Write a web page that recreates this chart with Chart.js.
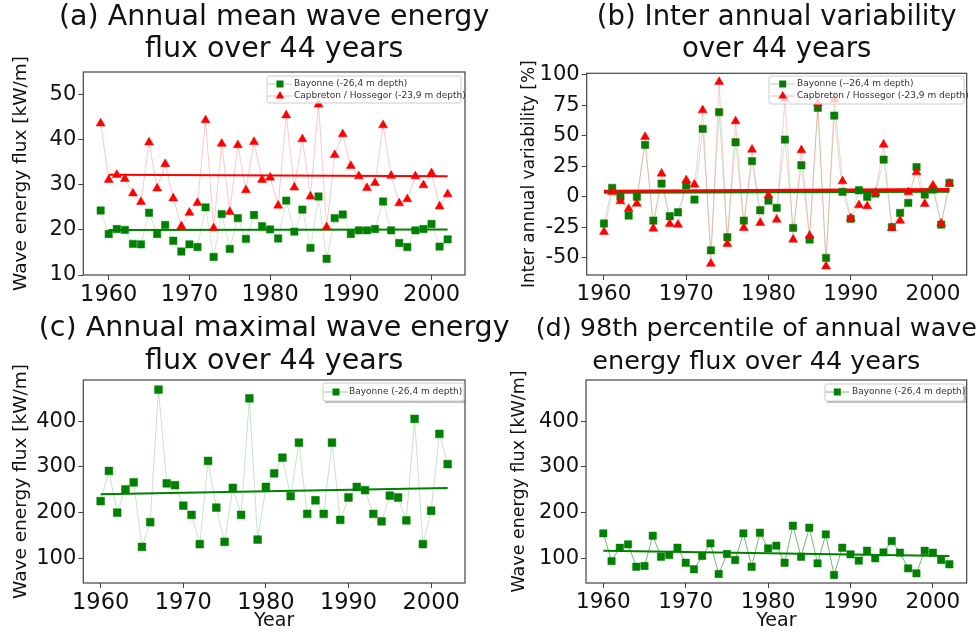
<!DOCTYPE html>
<html>
<head>
<meta charset="utf-8">
<script src="https://cdn.jsdelivr.net/npm/chart.js@4.4.1/dist/chart.umd.min.js"></script>
<style>
  html, body { margin: 0; padding: 0; background: #fff; }
  #wrap { position: relative; width: 976px; height: 632px; overflow: hidden; }
  #wrap canvas { position: absolute; }
</style>
</head>
<body>
<div id="wrap">
  <canvas id="chartB" width="488" height="316" style="left:488px;top:0"></canvas>
  <canvas id="chartD" width="488" height="316" style="left:488px;top:316px"></canvas>
  <canvas id="chartA" width="520" height="316" style="left:0;top:0"></canvas>
  <canvas id="chartC" width="520" height="316" style="left:0;top:316px"></canvas>
</div>
<script>
// years
const years44 = [1959, 1960, 1961, 1962, 1963, 1964, 1965, 1966, 1967, 1968, 1969,
  1970, 1971, 1972, 1973, 1974, 1975, 1976, 1977, 1978, 1979,
  1980, 1981, 1982, 1983, 1984, 1985, 1986, 1987, 1988, 1989,
  1990, 1991, 1992, 1993, 1994, 1995, 1996, 1997, 1998, 1999,
  2000, 2001, 2002];
const years43 = [1960, 1961, 1962, 1963, 1964, 1965, 1966, 1967, 1968, 1969,
  1970, 1971, 1972, 1973, 1974, 1975, 1976, 1977, 1978, 1979,
  1980, 1981, 1982, 1983, 1984, 1985, 1986, 1987, 1988, 1989,
  1990, 1991, 1992, 1993, 1994, 1995, 1996, 1997, 1998, 1999,
  2000, 2001, 2002];
const trendYears = [1960, 2002];
const xTicks = [1960, 1970, 1980, 1990, 2000];

// (a) annual mean flux [kW/m]
const meanBayonne = [24.3, 19.1, 20.2, 20.0, 16.9, 16.8, 23.8, 19.1, 21.1, 17.6, 15.2,
  16.8, 16.2, 25.0, 14.0, 23.5, 15.8, 22.6, 18.0, 23.3, 20.8,
  20.1, 18.1, 26.5, 19.6, 24.5, 16.0, 27.4, 13.6, 22.6, 23.4,
  19.1, 19.9, 19.9, 20.2, 26.3, 19.9, 17.1, 16.2, 19.9, 20.2,
  21.3, 16.3, 17.9];
const meanCapbreton = [43.6, 31.1, 32.2, 31.3, 28.1, 26.2, 39.4, 29.2, 34.6, 27.0, 20.8,
  23.8, 26.0, 44.3, 20.4, 39.1, 24.0, 38.8, 28.8, 39.5, 31.1,
  31.6, 25.4, 45.4, 29.4, 40.1, 27.4, 47.8, 20.6, 36.6, 41.2,
  34.2, 31.9, 29.3, 30.4, 43.2, 32.0, 25.9, 26.8, 31.9, 29.9,
  32.6, 25.2, 27.9];
const meanTrendBayonne = [20.0, 20.1];
const meanTrendCapbreton = [32.2, 31.9];
const yTicksA = [10, 20, 30, 40, 50];

// (b) inter annual variability [%]
const varBayonne = [-21.9, 7.3, 0, -15.4, 0, 42.4, -19.5, 10.8, -15.9, -12.7,
  9.4, -2.3, 55.5, -43.8, 69.2, -33.1, 44.6, -19.5, 29.1, -11,
  -3.1, -9.1, 46.8, -25.5, 25.8, -35, 72.7, -50, 66.4, 4,
  -18.1, 5.3, 0, 2.6, 30.4, -24.9, -13.2, -5, 24.2, 1.8,
  5.9, -22.8, 11.4];
const varCapbreton = [-28.7, 4, -3.6, -9.9, -5.6, 49, -26, 19, -22.2, -22.8,
  13.5, 10, 70.8, -54.7, 94, -38.6, 61.8, -25.5, 38.6, -21.4,
  1.2, -18.7, 80.1, -35, 38.1, -31.8, 76.3, -56.9, 79.5, 12.7,
  -17.5, -6.9, -7.7, 3.2, 42.7, -25.5, -19.5, 3.7, 20.1, -5.8,
  9.2, -21.9, 10.8];
const varTrendBayonne = [3.6, 4.5];
const varTrendCapbreton = [4.5, 5.9];
const yTicksB = [-50, -25, 0, 25, 50, 75, 100];

// (c) annual maximal flux, (d) 98th percentile [kW/m]
const maxBayonne = [225, 291, 200, 251, 266, 125, 179, 469, 264, 260,
  215, 195, 131, 313, 211, 136, 254, 195, 450, 141,
  256, 286, 320, 236, 353, 197, 227, 197, 353, 184,
  233, 256, 249, 197, 181, 237, 233, 183, 405, 131,
  204, 372, 306];
const maxTrend = [240, 254];
const p98Bayonne = [154.6, 94, 123, 130.6, 81.6, 83.2, 149.4, 103.5, 107.2, 123.2,
  90.4, 76, 105, 132.8, 65.7, 109.4, 96.3, 154.6, 81.6, 156,
  121.8, 127.6, 90.4, 171.3, 103.5, 166.9, 89, 152.4, 63.5, 123.2,
  108.7, 94.8, 116.6, 100, 113.1, 137.8, 112.4, 78.1, 67.2, 116.6,
  112.4, 96.3, 86.9];
const p98Trend = [116.6, 105];
const yTicksCD = [100, 200, 300, 400];

Chart.defaults.font.family = '"DejaVu Sans", Verdana, sans-serif';
Chart.defaults.color = '#111';

const xy = (xs, ys) => xs.map((x, i) => ({ x: x, y: ys[i] }));

// frame, two-line title and the in-plot legend
const panelDecor = {
  id: 'panelDecor',
  afterDraw(chart, args, o) {
    const { ctx, chartArea: a } = chart;
    ctx.save();
    ctx.strokeStyle = '#444';
    ctx.lineWidth = 1.2;
    ctx.strokeRect(a.left, a.top, a.right - a.left, a.bottom - a.top);

    ctx.fillStyle = '#111';
    ctx.font = o.titleSize + 'px "DejaVu Sans"';
    ctx.textAlign = 'center';
    ctx.textBaseline = 'middle';
    const cx = (a.left + a.right) / 2 + (o.titleDx || 0);
    o.title.forEach((t, i) => ctx.fillText(t, cx, o.titleY[i]));

    const L = o.legend;
    if (L.shadow) {
      ctx.fillStyle = 'rgba(120,120,120,0.5)';
      ctx.fillRect(L.x + 2, L.y + 2, L.w, L.h);
    }
    ctx.fillStyle = L.shadow ? '#fff' : 'rgba(255,255,255,0.8)';
    ctx.strokeStyle = '#ccc';
    ctx.lineWidth = 1;
    ctx.beginPath();
    ctx.roundRect(L.x, L.y, L.w, L.h, 2);
    ctx.fill();
    ctx.stroke();
    L.items.forEach((it, i) => {
      const y = L.rowY[i];
      ctx.strokeStyle = it.line;
      ctx.lineWidth = 1;
      ctx.beginPath();
      ctx.moveTo(L.mx - 12, y);
      ctx.lineTo(L.mx + 12, y);
      ctx.stroke();
      ctx.fillStyle = it.color;
      ctx.beginPath();
      if (it.shape === 'rect') {
        ctx.rect(L.mx - 3.5, y - 3.5, 7, 7);
      } else {
        ctx.moveTo(L.mx, y - 5);
        ctx.lineTo(L.mx + 4.3, y + 2.5);
        ctx.lineTo(L.mx - 4.3, y + 2.5);
        ctx.closePath();
      }
      ctx.fill();
      ctx.fillStyle = '#333';
      ctx.font = '9px "DejaVu Sans"';
      ctx.textAlign = 'left';
      ctx.textBaseline = 'middle';
      ctx.fillText(it.label, L.tx, y);
    });
    ctx.restore();
  }
};

function scales(o) {
  return {
    x: {
      type: 'linear', min: o.xMin, max: o.xMax,
      afterBuildTicks: s => { s.ticks = xTicks.map(v => ({ value: v })); },
      afterFit: s => { s.height = o.xH; },
      grid: { drawOnChartArea: false, color: '#444', tickLength: 5 },
      border: { display: false },
      ticks: { font: { size: o.tickSize }, color: '#111', padding: 2, maxRotation: 0, callback: v => String(v) },
      title: { display: !!o.xTitle, text: o.xTitle || '', font: { size: 19 }, color: '#111', padding: 0 }
    },
    y: {
      min: o.yMin, max: o.yMax,
      afterBuildTicks: s => { s.ticks = o.yTicks.map(v => ({ value: v })); },
      afterFit: s => { s.width = o.yW; },
      grid: { drawOnChartArea: false, color: '#444', tickLength: 5 },
      border: { display: false },
      ticks: { font: { size: 21 }, color: '#111', padding: 2, callback: v => String(v) },
      title: { display: true, text: o.yTitle, font: { size: o.yTitleSize }, color: '#111', padding: 0 }
    }
  };
}

function series(xs, ys, c) {
  return {
    data: xy(xs, ys), showLine: true, borderColor: c.line, borderWidth: 1,
    pointStyle: c.shape, pointRadius: c.r, pointBackgroundColor: c.color,
    pointBorderColor: c.color, pointBorderWidth: 0.5, order: c.order
  };
}

function trend(ys, color, w, order) {
  return {
    data: xy(trendYears, ys), showLine: true, borderColor: color, borderWidth: w,
    pointRadius: 0, order: order
  };
}

function makeChart(id, datasets, sc, pad, decor) {
  return new Chart(document.getElementById(id), {
    type: 'line',
    data: { datasets: datasets },
    options: {
      responsive: false, animation: false,
      layout: { padding: pad },
      plugins: { legend: { display: false }, tooltip: { enabled: false }, title: { display: false }, panelDecor: decor },
      scales: sc
    },
    plugins: [panelDecor]
  });
}

const GREEN = 'green', RED = '#ff0000';

// (a)
makeChart('chartA', [
  trend(meanTrendBayonne, GREEN, 2, 3),
  trend(meanTrendCapbreton, RED, 2, 2),
  series(years44, meanBayonne, { line: 'rgba(0,128,0,0.18)', shape: 'rect', r: 5.2, color: GREEN, order: 1 }),
  series(years44, meanCapbreton, { line: 'rgba(255,0,0,0.22)', shape: 'triangle', r: 5.2, color: RED, order: 0 })
], scales({ xMin: 1956.85, xMax: 2004.15, yMin: 10, yMax: 55, yTicks: yTicksA, yW: 73.3, xH: 41, tickSize: 22.5, yTitle: 'Wave energy flux [kW/m]', yTitleSize: 18.5 }),
{ left: 10, top: 72, right: 55, bottom: 0 },
{ title: ['(a) Annual mean wave energy', 'flux over 44 years'], titleY: [18, 50], titleSize: 28.5,
  legend: { x: 267, y: 76, w: 194, h: 27, mx: 280, tx: 294, rowY: [84, 96], shadow: false,
    items: [
      { label: 'Bayonne (-26,4 m depth)', shape: 'rect', color: GREEN, line: 'rgba(0,128,0,0.3)' },
      { label: 'Capbreton / Hossegor (-23,9 m depth)', shape: 'triangle', color: RED, line: 'rgba(255,0,0,0.3)' }
    ] } });

// (b)
makeChart('chartB', [
  trend(varTrendBayonne, GREEN, 3, 3),
  trend(varTrendCapbreton, RED, 3, 2),
  series(years43, varBayonne, { line: 'rgba(0,128,0,0.2)', shape: 'rect', r: 5.2, color: GREEN, order: 1 }),
  series(years43, varCapbreton, { line: 'rgba(255,0,0,0.2)', shape: 'triangle', r: 5.2, color: RED, order: 0 })
], scales({ xMin: 1957.9, xMax: 2004.1, yMin: -64, yMax: 101, yTicks: yTicksB, yW: 67.7, xH: 41, tickSize: 21.5, yTitle: 'Inter annual variability [%]', yTitleSize: 17 }),
{ left: 31, top: 73.3, right: 9.3, bottom: 0 },
{ title: ['(b) Inter annual variability', 'over 44 years'], titleY: [18, 50], titleSize: 27.5,
  legend: { x: 281, y: 76, w: 195, h: 28, mx: 294.7, tx: 309, rowY: [84, 96], shadow: false,
    items: [
      { label: 'Bayonne (--26,4 m depth)', shape: 'rect', color: GREEN, line: 'rgba(0,128,0,0.3)' },
      { label: 'Capbreton / Hossegor (-23,9 m depth)', shape: 'triangle', color: RED, line: 'rgba(255,0,0,0.3)' }
    ] } });

// (c)
makeChart('chartC', [
  trend(maxTrend, GREEN, 2, 1),
  series(years43, maxBayonne, { line: 'rgba(0,128,0,0.22)', shape: 'rect', r: 5.5, color: GREEN, order: 0 })
], scales({ xMin: 1957.9, xMax: 2004.1, yMin: 46, yMax: 490, yTicks: yTicksCD, yW: 73.3, xH: 49, tickSize: 22.5, yTitle: 'Wave energy flux [kW/m]', yTitleSize: 18.5, xTitle: 'Year' }),
{ left: 10, top: 64, right: 55, bottom: 0 },
{ title: ['(c) Annual maximal wave energy', 'flux over 44 years'], titleY: [13, 46], titleSize: 28.5,
  legend: { x: 323, y: 67, w: 141, h: 18, mx: 336, tx: 349, rowY: [76], shadow: true,
    items: [
      { label: 'Bayonne (-26,4 m depth)', shape: 'rect', color: GREEN, line: 'rgba(0,128,0,0.4)' }
    ] } });

// (d)
makeChart('chartD', [
  trend(p98Trend, GREEN, 2, 1),
  series(years43, p98Bayonne, { line: 'rgba(0,128,0,0.55)', shape: 'rect', r: 5.2, color: GREEN, order: 0 })
], scales({ xMin: 1957.9, xMax: 2004.1, yMin: 46, yMax: 490, yTicks: yTicksCD, yW: 77.4, xH: 49, tickSize: 21.5, yTitle: 'Wave energy flux [kW/m]', yTitleSize: 17.5, xTitle: 'Year' }),
{ left: 20.6, top: 64, right: 9.3, bottom: 0 },
{ title: ['(d) 98th percentile of annual wave', 'energy flux over 44 years'], titleY: [13, 46], titleSize: 25.5, titleDx: -20,
  legend: { x: 337, y: 68, w: 139, h: 17, mx: 349.3, tx: 364, rowY: [76], shadow: true,
    items: [
      { label: 'Bayonne (-26,4 m depth)', shape: 'rect', color: GREEN, line: 'rgba(0,128,0,0.5)' }
    ] } });
</script>
</body>
</html>
